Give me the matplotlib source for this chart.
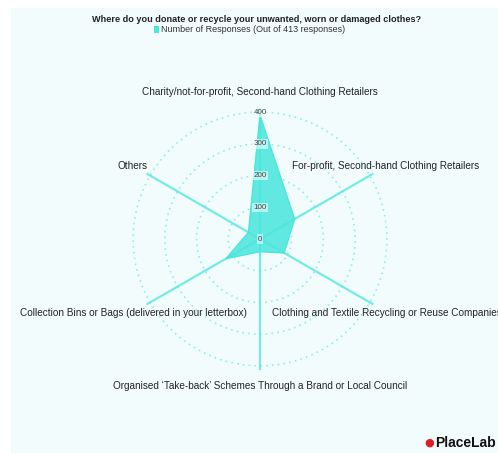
import numpy as np
import matplotlib.pyplot as plt
from matplotlib.patches import Rectangle

plt.rcParams['font.family'] = ['Liberation Sans', 'DejaVu Sans']

# ── Data ──────────────────────────────────────────────────────────────────────
title = "Where do you donate or recycle your unwanted, worn or damaged clothes?"
series_name = "Number of Responses (Out of 413 responses)"
categories = [
    "Charity/not-for-profit, Second-hand Clothing Retailers",
    "For-profit, Second-hand Clothing Retailers",
    "Clothing and Textile Recycling or Reuse Companies",
    "Organised \u2018Take-back\u2019 Schemes Through a Brand or Local Council",
    "Collection Bins or Bags (delivered in your letterbox)",
    "Others",
]
responses = [390, 126, 88, 40, 124, 42]
r_ticks = [0, 100, 200, 300, 400]
r_max = 413

TEAL = "#48e6dc"
BG = "#f3fcfd"
W, H = 498, 453

fig = plt.figure(figsize=(W / 100, H / 100), dpi=100)
fig.patch.set_facecolor("white")
fig.patches.append(Rectangle((11 / W, 0), 1 - 11 / W, 1 - 8 / H,
                             transform=fig.transFigure, facecolor=BG,
                             edgecolor="none", zorder=-10))

# polar axes centred at (260, 239) px, radius 131 px
cx, cy, rad = 260, 239, 131
ax = fig.add_axes([(cx - rad) / W, (H - cy - rad) / H, 2 * rad / W, 2 * rad / H],
                  projection="polar")
ax.set_facecolor("none")
ax.set_theta_offset(np.pi / 2)
ax.set_theta_direction(-1)

n = len(categories)
angles = np.arange(n) * 2 * np.pi / n
ang_closed = np.append(angles, angles[0])
vals_closed = np.append(responses, responses[0])

ax.fill(ang_closed, vals_closed, color=TEAL, alpha=0.85, lw=0, zorder=3)
ax.plot(ang_closed, vals_closed, color=TEAL, lw=1, zorder=4)

# spokes
for a in angles:
    ax.plot([a, a], [0, r_max], color=TEAL, lw=1.6, alpha=0.75, zorder=2)

# dotted rings
theta = np.linspace(0, 2 * np.pi, 300)
for t in r_ticks[1:]:
    ax.plot(theta, np.full_like(theta, t), color=TEAL, alpha=0.6, lw=1.2,
            linestyle=(0, (1, 2.5)), zorder=1)

ax.set_ylim(0, r_max)
ax.set_xticks([])
ax.set_yticks([])
ax.grid(False)
ax.spines["polar"].set_visible(False)

# radial tick labels
for t in r_ticks:
    ax.text(0, t, str(t), ha="center", va="center", fontsize=5.8, color="#444444",
            zorder=6, bbox=dict(boxstyle="square,pad=0.15", fc=BG, ec="none", alpha=0.6))

# point labels
label_pos = [
    (260, 92, "center"),
    (292, 166, "left"),
    (272, 313, "left"),
    (260, 386, "center"),
    (247, 313, "right"),
    (148, 166, "right"),
]
for cat, (x, y, ha) in zip(categories, label_pos):
    fig.text(x / W, 1 - y / H, cat, ha=ha, va="center", fontsize=7.2, color="#222222")

# title and legend
fig.text(257 / W, 1 - 19 / H, title, ha="center", va="center", fontsize=6.6,
         fontweight="bold", color="#222222")
fig.patches.append(Rectangle((154 / W, 1 - 33 / H), 5 / W, 7 / H,
                             transform=fig.transFigure, facecolor=TEAL,
                             edgecolor="none"))
fig.text(161 / W, 1 - 29 / H, series_name, ha="left", va="center", fontsize=6.5,
         color="#333333")

# watermark
fig.text(434 / W, 1 - 443 / H, "\u25cf", ha="right", va="center", fontsize=8,
         color="#e31b23", family="DejaVu Sans")
fig.text(435 / W, 1 - 443 / H, "PlaceLab", ha="left", va="center", fontsize=10,
         fontweight="bold", color="#111111")

fig.savefig("out.png", dpi=100)
